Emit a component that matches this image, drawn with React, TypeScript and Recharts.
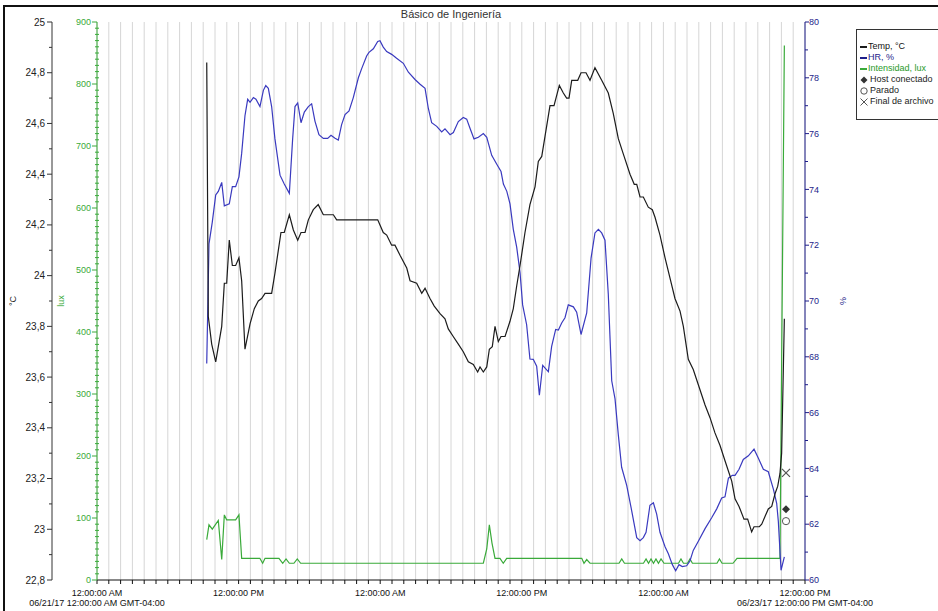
import React from "react";
import {
  ComposedChart,
  Line,
  Scatter,
  XAxis,
  YAxis,
  CartesianGrid,
  Label,
} from "recharts";

// hours since 06/21/17 12:00:00 AM, value
const TEMP_SERIES: [number, number][] = [
  [9.3, 24.84], [9.43, 23.84], [9.72, 23.73], [10.06, 23.66], [10.57, 23.8],
  [10.79, 23.97], [10.99, 23.97], [11.21, 24.14], [11.47, 24.04], [11.75, 24.04],
  [12.03, 24.07], [12.26, 23.98], [12.54, 23.71], [12.97, 23.81], [13.33, 23.87],
  [13.67, 23.9], [13.95, 23.91], [14.24, 23.93], [14.8, 23.93], [15.08, 24.01],
  [15.59, 24.17], [15.87, 24.17], [16.3, 24.24], [16.64, 24.18], [17.01, 24.14],
  [17.29, 24.17], [17.63, 24.17], [17.91, 24.22], [18.33, 24.26], [18.75, 24.28],
  [19.18, 24.24], [20.03, 24.24], [20.31, 24.22], [23.79, 24.22], [24.26, 24.17],
  [24.55, 24.16], [24.97, 24.12], [25.25, 24.12], [25.68, 24.08], [26.25, 24.03],
  [26.53, 23.98], [27.09, 23.97], [27.52, 23.93], [27.8, 23.95], [28.22, 23.91],
  [28.58, 23.88], [29.07, 23.85], [29.49, 23.83], [29.77, 23.79], [30.19, 23.76],
  [30.62, 23.73], [31.04, 23.7], [31.47, 23.66], [31.89, 23.65], [32.26, 23.62],
  [32.46, 23.64], [32.74, 23.62], [33.03, 23.64], [33.25, 23.71], [33.5, 23.72],
  [33.73, 23.8], [34.01, 23.74], [34.24, 23.76], [34.58, 23.76], [35.0, 23.82],
  [35.28, 23.87], [35.57, 23.96], [35.85, 24.04], [36.27, 24.17], [36.69, 24.28],
  [37.12, 24.35], [37.4, 24.45], [37.69, 24.47], [37.97, 24.55], [38.39, 24.67],
  [38.73, 24.67], [39.18, 24.75], [39.52, 24.72], [39.8, 24.7], [40.0, 24.7],
  [40.23, 24.77], [40.74, 24.77], [41.02, 24.8], [41.44, 24.8], [41.78, 24.77],
  [42.2, 24.82], [42.77, 24.77], [43.33, 24.72], [43.75, 24.64], [44.18, 24.54],
  [44.6, 24.48], [45.17, 24.4], [45.53, 24.36], [45.74, 24.36], [46.02, 24.31],
  [46.3, 24.31], [46.72, 24.27], [47.06, 24.26], [47.29, 24.23], [47.71, 24.16],
  [48.14, 24.07], [48.56, 23.99], [48.98, 23.91], [49.41, 23.86], [49.69, 23.8],
  [50.11, 23.67], [50.53, 23.63], [50.96, 23.57], [51.53, 23.49], [51.95, 23.44],
  [52.37, 23.38], [52.8, 23.33], [53.22, 23.27], [53.79, 23.19], [54.07, 23.12],
  [54.41, 23.09], [54.83, 23.04], [55.14, 23.04], [55.48, 22.99], [55.68, 23.01],
  [56.13, 23.01], [56.33, 23.02], [56.61, 23.05], [56.89, 23.08], [57.18, 23.09],
  [57.46, 23.14], [57.69, 23.17], [57.88, 23.22], [58.02, 23.3], [58.25, 23.83],
];

const HR_SERIES: [number, number][] = [
  [9.3, 67.76], [9.49, 72.05], [9.77, 72.83], [10.06, 73.8], [10.28, 73.93],
  [10.57, 74.25], [10.79, 73.41], [11.21, 73.48], [11.47, 74.1], [11.75, 74.1],
  [12.03, 74.45], [12.26, 75.29], [12.54, 76.64], [12.77, 77.23], [12.97, 77.12],
  [13.25, 77.29], [13.47, 77.23], [13.81, 76.97], [14.1, 77.55], [14.3, 77.72],
  [14.52, 77.62], [14.8, 76.97], [15.08, 75.81], [15.51, 74.51], [15.87, 74.19],
  [16.3, 73.86], [16.58, 75.81], [16.78, 76.97], [17.01, 77.1], [17.29, 76.39],
  [17.57, 76.77], [17.91, 76.97], [18.19, 77.07], [18.47, 76.45], [18.81, 75.96],
  [19.18, 75.83], [19.55, 75.83], [19.83, 75.94], [20.17, 75.83], [20.45, 75.77],
  [20.73, 76.32], [21.02, 76.68], [21.36, 76.81], [21.72, 77.29], [22.15, 78.0],
  [22.43, 78.33], [22.85, 78.78], [23.05, 78.91], [23.42, 79.04], [23.79, 79.3],
  [23.98, 79.33], [24.26, 79.1], [24.55, 78.94], [24.97, 78.84], [25.39, 78.7],
  [25.96, 78.52], [26.39, 78.2], [26.95, 77.94], [27.38, 77.77], [27.8, 77.62],
  [28.08, 76.9], [28.36, 76.39], [28.79, 76.26], [29.21, 76.06], [29.49, 76.17],
  [29.92, 75.96], [30.2, 76.04], [30.62, 76.43], [31.04, 76.58], [31.33, 76.52],
  [31.61, 76.19], [31.95, 75.81], [32.32, 75.87], [32.74, 76.0], [33.03, 75.87],
  [33.45, 75.22], [33.88, 74.9], [34.24, 74.64], [34.44, 74.19], [34.73, 73.93],
  [35.0, 73.48], [35.28, 72.57], [35.57, 71.92], [35.85, 71.02], [36.07, 69.86],
  [36.41, 69.15], [36.69, 67.92], [36.97, 67.91], [37.26, 67.66], [37.49, 66.62],
  [37.77, 67.69], [38.11, 67.53], [38.25, 67.47], [38.53, 68.37], [38.87, 68.98],
  [39.1, 68.96], [39.38, 69.21], [39.66, 69.4], [39.94, 69.86], [40.37, 69.79],
  [40.65, 69.6], [41.02, 68.8], [41.5, 69.57], [41.87, 71.54], [42.2, 72.44],
  [42.49, 72.57], [42.77, 72.44], [43.05, 72.18], [43.33, 70.24], [43.62, 67.14],
  [43.9, 66.49], [44.18, 65.2], [44.46, 64.04], [44.89, 63.39], [45.31, 62.49],
  [45.74, 61.52], [46.02, 61.41], [46.3, 61.52], [46.53, 61.71], [46.86, 62.68],
  [47.15, 62.77], [47.43, 62.36], [47.71, 61.71], [48.14, 61.19], [48.42, 60.94],
  [48.76, 60.55], [49.04, 60.33], [49.32, 60.55], [49.6, 60.48], [49.97, 60.51],
  [50.25, 60.68], [50.53, 61.06], [50.96, 61.39], [51.53, 61.84], [52.09, 62.23],
  [52.52, 62.55], [52.94, 62.94], [53.22, 62.98], [53.51, 63.65], [53.84, 63.75],
  [54.07, 63.75], [54.41, 63.97], [54.77, 64.32], [55.2, 64.45], [55.68, 64.69],
  [56.05, 64.36], [56.47, 63.97], [56.89, 63.88], [57.32, 63.26], [57.6, 62.75],
  [57.74, 62.1], [57.97, 60.35], [58.25, 60.83],
];

const LUX_SERIES: [number, number][] = [
  [9.3, 65], [9.49, 89], [9.77, 82], [10.28, 96], [10.57, 33], [10.79, 105],
  [10.99, 97], [11.75, 97], [12.03, 105], [12.26, 35], [13.8, 35], [14.04, 27],
  [14.24, 35], [15.42, 35], [15.74, 27], [16.02, 34], [16.3, 27], [16.69, 27],
  [16.97, 34], [17.26, 27], [32.74, 27], [33.03, 50], [33.25, 89], [33.47, 60],
  [33.73, 35], [34.15, 35], [34.43, 27], [34.72, 35], [41.08, 35], [41.27, 27],
  [41.5, 33], [41.78, 27], [44.24, 27], [44.47, 34], [44.7, 27], [46.31, 27],
  [46.53, 34], [46.74, 27], [46.95, 34], [47.16, 27], [47.37, 34], [47.58, 27],
  [47.8, 34], [48.05, 27], [49.28, 27], [49.49, 34], [49.7, 27], [50.04, 27],
  [50.25, 34], [50.46, 27], [52.54, 27], [52.75, 34], [52.97, 27], [53.9, 27],
  [54.24, 35], [57.88, 35], [58.25, 862],
];

// event markers, plotted on the HR axis
const FINAL_ARCHIVO: [number, number][] = [[58.39, 63.84]];
const HOST_CONECTADO: [number, number][] = [[58.39, 62.54]];
const PARADO: [number, number][] = [[58.39, 62.11]];

const HOUR_TICKS = Array.from({ length: 61 }, (_, i) => i);
const TEMP_TICKS = Array.from({ length: 23 }, (_, i) => Math.round((22.8 + i * 0.1) * 10) / 10);
const LUX_TICKS = Array.from({ length: 91 }, (_, i) => i * 10);
const HR_TICKS = Array.from({ length: 21 }, (_, i) => 60 + i);

const TIME_LABELS = ["12:00:00 AM", "12:00:00 PM", "12:00:00 AM", "12:00:00 PM", "12:00:00 AM", "12:00:00 PM"];
const DATE_LABELS: Record<number, string> = {
  0: "06/21/17 12:00:00 AM GMT-04:00",
  60: "06/23/17 12:00:00 PM GMT-04:00",
};

const toPoints = (s: [number, number][]) => s.map(([h, v]) => ({ h, v }));

const FONT = '"Liberation Sans", Arial, sans-serif';
const C_TEMP = "#1c1c1c";
const C_HR = "#3a3abf";
const C_HR_AXIS = "#1e1e8a";
const C_LUX = "#3aaa3a";

function TimeTick({ x, y, payload }: any) {
  const h = payload.value;
  if (h % 12 !== 0) return <g />;
  return (
    <g fontFamily={FONT} fontSize={9} fill="#111">
      <text x={x} y={y + 10} textAnchor="middle">{TIME_LABELS[h / 12]}</text>
      {DATE_LABELS[h] && (
        <text x={x} y={y + 20} textAnchor="middle">{DATE_LABELS[h]}</text>
      )}
    </g>
  );
}

const fmtTemp = (v: number) => (Number.isInteger(v) ? String(v) : v.toFixed(1).replace(".", ","));

function TempTick({ x, y, payload }: any) {
  const v = payload.value;
  const major = Math.round(v * 10) % 2 === 0;
  return (
    <g>
      <line x1={x - (major ? 5 : 3)} x2={x} y1={y} y2={y} stroke="#333" />
      {major && (
        <text x={x - 7} y={y} dy={3.5} textAnchor="end" fontSize={10} fill="#222" fontFamily={FONT}>
          {fmtTemp(v)}
        </text>
      )}
    </g>
  );
}

function LuxTick({ x, y, payload }: any) {
  const v = payload.value;
  const major = v % 100 === 0;
  return (
    <g>
      <line x1={x - (major ? 5 : 2)} x2={major ? x : x + 2} y1={y} y2={y} stroke={C_LUX} />
      {major && (
        <text x={x - 6} y={y} dy={3.2} textAnchor="end" fontSize={9} fill={C_LUX} fontFamily={FONT}>
          {v}
        </text>
      )}
    </g>
  );
}

function HrTick({ x, y, payload }: any) {
  const v = payload.value;
  const major = v % 2 === 0;
  return (
    <g>
      <line x1={x} x2={x + (major ? 4 : 3)} y1={y} y2={y} stroke={C_HR_AXIS} />
      {major && (
        <text x={x + 4} y={y} dy={3.2} textAnchor="start" fontSize={9} fill={C_HR_AXIS} fontFamily={FONT}>
          {v}
        </text>
      )}
    </g>
  );
}

const axisTitle = (text: string, dx: number, color: string, fromRight = false) => (props: any) => {
  const { x, y, width, height } = props.viewBox;
  const cx = fromRight ? x + width - dx : x + dx;
  const cy = y + height / 2;
  return (
    <text
      x={cx}
      y={cy}
      transform={`rotate(-90 ${cx} ${cy})`}
      textAnchor="middle"
      dominantBaseline="central"
      fontSize={9}
      fill={color}
      fontFamily={FONT}
    >
      {text}
    </text>
  );
};

const Cross = ({ cx, cy }: any) => (
  <path d={`M${cx - 4},${cy - 4}L${cx + 4},${cy + 4}M${cx - 4},${cy + 4}L${cx + 4},${cy - 4}`} stroke="#555" strokeWidth={1.2} />
);
const Diamond = ({ cx, cy }: any) => (
  <path d={`M${cx},${cy - 4}L${cx + 4},${cy}L${cx},${cy + 4}L${cx - 4},${cy}Z`} fill="#333" />
);
const Ring = ({ cx, cy }: any) => <circle cx={cx} cy={cy} r={3.6} fill="#fff" stroke="#555" strokeWidth={1} />;

const LEGEND = [
  { label: "Temp, °C", kind: "line", color: C_TEMP, text: "#111" },
  { label: "HR, %", kind: "line", color: C_HR_AXIS, text: C_HR_AXIS },
  { label: "Intensidad, lux", kind: "line", color: C_LUX, text: "#2a9a2a" },
  { label: "Host conectado", kind: "diamond", color: "#333", text: "#222" },
  { label: "Parado", kind: "ring", color: "#555", text: "#222" },
  { label: "Final de archivo", kind: "cross", color: "#555", text: "#222" },
];

function LegendSymbol({ kind, color }: { kind: string; color: string }) {
  if (kind === "line") {
    return <span style={{ display: "inline-block", width: 7, height: 2, background: color, verticalAlign: "middle", marginRight: 1 }} />;
  }
  return (
    <svg width={8} height={8} style={{ verticalAlign: "middle", marginRight: 2 }}>
      {kind === "diamond" && <path d="M4,0.5L7.5,4L4,7.5L0.5,4Z" fill={color} />}
      {kind === "ring" && <circle cx={4} cy={4} r={3.2} fill="none" stroke={color} />}
      {kind === "cross" && <path d="M0.5,0.5L7.5,7.5M0.5,7.5L7.5,0.5" stroke={color} strokeWidth={1} />}
    </svg>
  );
}

export default function App() {
  return (
    <div
      style={{
        position: "absolute",
        left: 0,
        top: 0,
        width: 938,
        height: 611,
        background: "#fff",
        overflow: "hidden",
        fontFamily: FONT,
      }}
    >
      <div
        style={{
          position: "absolute",
          left: 3,
          top: 5,
          right: -10,
          bottom: -10,
          borderLeft: "2px solid #111",
          borderTop: "2px solid #111",
        }}
      />
      <div
        style={{
          position: "absolute",
          left: 351,
          width: 200,
          top: 8,
          textAlign: "center",
          fontSize: 11,
          lineHeight: "13px",
          color: "#333",
        }}
      >
        Básico de Ingeniería
      </div>
      <ComposedChart width={938} height={611} margin={{ top: 22, right: 83, bottom: 0, left: 0 }}>
        <CartesianGrid vertical horizontal={false} stroke="#d6d6d6" yAxisId="hr" />
        <XAxis
          dataKey="h"
          type="number"
          domain={[0, 60]}
          ticks={HOUR_TICKS}
          interval={0}
          height={31}
          tickSize={4}
          tickMargin={2}
          axisLine={{ stroke: "#111" }}
          tickLine={{ stroke: "#111" }}
          tick={<TimeTick />}
          allowDataOverflow
        />
        <YAxis
          yAxisId="lux"
          orientation="left"
          type="number"
          width={45}
          domain={[0, 900]}
          ticks={LUX_TICKS}
          interval={0}
          tickSize={0}
          tickMargin={0}
          tickLine={false}
          axisLine={{ stroke: C_LUX }}
          tick={<LuxTick />}
          allowDataOverflow
        >
          <Label content={axisTitle("lux", 9, C_LUX)} />
        </YAxis>
        <YAxis
          yAxisId="temp"
          orientation="left"
          type="number"
          width={52}
          domain={[22.8, 25]}
          ticks={TEMP_TICKS}
          interval={0}
          tickSize={0}
          tickMargin={0}
          tickLine={false}
          axisLine={{ stroke: "#333" }}
          tick={<TempTick />}
          allowDataOverflow
        >
          <Label content={axisTitle("°C", 13, "#222")} />
        </YAxis>
        <YAxis
          yAxisId="hr"
          orientation="right"
          type="number"
          width={50}
          domain={[60, 80]}
          ticks={HR_TICKS}
          interval={0}
          tickSize={0}
          tickMargin={0}
          tickLine={false}
          axisLine={{ stroke: C_HR_AXIS }}
          tick={<HrTick />}
          allowDataOverflow
        >
          <Label content={axisTitle("%", 12, C_HR_AXIS, true)} />
        </YAxis>
        <Line
          yAxisId="lux"
          data={toPoints(LUX_SERIES)}
          dataKey="v"
          type="linear"
          stroke={C_LUX}
          strokeWidth={1.2}
          dot={false}
          isAnimationActive={false}
        />
        <Line
          yAxisId="hr"
          data={toPoints(HR_SERIES)}
          dataKey="v"
          type="linear"
          stroke={C_HR}
          strokeWidth={1.2}
          dot={false}
          isAnimationActive={false}
        />
        <Line
          yAxisId="temp"
          data={toPoints(TEMP_SERIES)}
          dataKey="v"
          type="linear"
          stroke={C_TEMP}
          strokeWidth={1.2}
          dot={false}
          isAnimationActive={false}
        />
        <Scatter yAxisId="hr" data={toPoints(FINAL_ARCHIVO)} dataKey="v" shape={<Cross />} isAnimationActive={false} />
        <Scatter yAxisId="hr" data={toPoints(HOST_CONECTADO)} dataKey="v" shape={<Diamond />} isAnimationActive={false} />
        <Scatter yAxisId="hr" data={toPoints(PARADO)} dataKey="v" shape={<Ring />} isAnimationActive={false} />
      </ComposedChart>
      <div
        style={{
          position: "absolute",
          left: 856,
          top: 29,
          width: 100,
          height: 78,
          border: "1px solid #333",
          paddingTop: 11,
          paddingLeft: 3,
          fontSize: 9,
          lineHeight: "11px",
          background: "#fff",
        }}
      >
        {LEGEND.map((item) => (
          <div key={item.label} style={{ whiteSpace: "nowrap", color: item.text, height: 11 }}>
            <LegendSymbol kind={item.kind} color={item.color} />
            {item.label}
          </div>
        ))}
      </div>
    </div>
  );
}
